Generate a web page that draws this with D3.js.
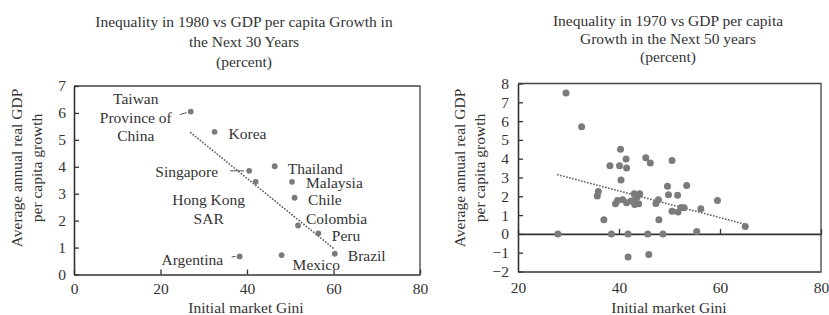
<!DOCTYPE html>
<html>
<head>
<meta charset="utf-8">
<script src="https://cdn.jsdelivr.net/npm/d3@7"></script>
<style>
  body { margin: 0; background: #fff; }
  svg { display: block; }
  text { font-family: "Liberation Serif", "DejaVu Serif", serif; fill: #333; }
</style>
</head>
<body>
<svg id="svg" width="829" height="315"></svg>
<script>
// left chart: inequality in 1980 vs growth over next 30 years
var leftNames = [["Taiwan", "Province of", "China"], ["Korea"], ["Singapore"], ["Hong Kong", "SAR"], ["Thailand"], ["Malaysia"], ["Chile"], ["Colombia"], ["Peru"], ["Brazil"], ["Mexico"], ["Argentina"]];
var leftGini =   [27, 32.5, 40.5, 42, 46.4, 50.4, 51, 51.8, 56.5, 60.3, 48, 38.3];
var leftGrowth = [6.05, 5.3, 3.85, 3.44, 4.02, 3.44, 2.85, 1.82, 1.53, 0.77, 0.72, 0.67];
var leftXTicks = [0, 20, 40, 60, 80];
var leftYTicks = [0, 1, 2, 3, 4, 5, 6, 7];

// right chart: inequality in 1970 vs growth over next 50 years
var rightGini =   [29.5, 32.6, 40.3, 41.4, 45.3, 46.2, 50.5, 38.2, 40.1, 41.5, 40.4, 35.9, 35.7, 39.3, 39.7, 40.7, 41.5, 42.4, 43.0, 43.6, 44.1, 43.1, 43.9, 43.2, 49.6, 49.8, 53.4, 51.6, 47.3, 47.8, 47.9, 50.5, 51.7, 52.3, 52.9, 56.2, 59.5, 55.4, 65, 37, 27.9, 38.5, 41.8, 45.7, 48.7, 41.8, 45.9];
var rightGrowth = [7.5, 5.7, 4.5, 3.98, 4.05, 3.77, 3.9, 3.63, 3.63, 3.5, 2.87, 2.25, 2.02, 1.61, 1.78, 1.82, 1.66, 1.75, 2.14, 1.96, 2.14, 1.57, 1.61, 1.82, 2.53, 2.08, 2.58, 2.05, 1.62, 1.82, 0.75, 1.21, 1.16, 1.4, 1.39, 1.34, 1.78, 0.13, 0.4, 0.75, 0, 0, 0, 0, 0, -1.23, -1.1];
var rightXTicks = [20, 40, 60, 80];
var rightYTicks = [-2, -1, 0, 1, 2, 3, 4, 5, 6, 7, 8];

var leftTitle = ["Inequality in 1980 vs GDP per capita Growth in", "the Next 30 Years", "(percent)"];
var rightTitle = ["Inequality in 1970 vs GDP per capita", "Growth in the Next 50 years", "(percent)"];
var yTitle = ["Average annual real GDP", "per capita growth"];
var xTitle = "Initial market Gini";

// label placement (offsets from the point), leader lines
var labelPlace = {
  "Taiwan":    {dx: -55, dy: -7.5, anchor: "middle", lead: [-11, 3, -4, 1]},
  "Korea":     {dx: 14, dy: 7, anchor: "start"},
  "Singapore": {dx: -31, dy: 6, anchor: "end", lead: [-19, 0, -5, 0]},
  "Hong Kong": {dx: -47, dy: 23, anchor: "middle"},
  "Thailand":  {dx: 13, dy: 7.5, anchor: "start"},
  "Malaysia":  {dx: 14, dy: 6.5, anchor: "start"},
  "Chile":     {dx: 13.5, dy: 7, anchor: "start"},
  "Colombia":  {dx: 8, dy: -1.5, anchor: "start"},
  "Peru":      {dx: 13.5, dy: 8, anchor: "start"},
  "Brazil":    {dx: 13, dy: 7, anchor: "start"},
  "Mexico":    {dx: 11, dy: 15, anchor: "start"},
  "Argentina": {dx: -16.5, dy: 8.5, anchor: "end", lead: [-8, 0.5, -4, 0]}
};

var svg = d3.select("#svg");
var fontSize = 15.5;
var dotColor = "#7b7b7b";
var ink = "#333";
var intFmt = d3.format("d");

function fit(xs, ys) {
  var mx = d3.mean(xs), my = d3.mean(ys);
  var sxy = d3.sum(xs, function(x, i) { return (x - mx) * (ys[i] - my); });
  var sxx = d3.sum(xs, function(x) { return (x - mx) * (x - mx); });
  var b = sxy / sxx;
  return function(x) { return my + b * (x - mx); };
}

function styleAxis(g) {
  g.attr("font-family", null);
  g.selectAll("text").style("font-size", fontSize + "px").attr("fill", ink);
  g.selectAll("line").attr("stroke", ink).attr("stroke-width", 1.3);
  g.select(".domain").attr("stroke", ink).attr("stroke-width", 1.6);
}

function titleBlock(lines, cx, y0, step) {
  svg.append("g").selectAll("text").data(lines).enter().append("text")
    .attr("x", cx)
    .attr("y", function(d, i) { return y0 + i * step; })
    .attr("text-anchor", "middle")
    .style("font-size", fontSize + "px")
    .text(function(d) { return d; });
}

function yTitleBlock(x0, cy) {
  svg.append("g").selectAll("text").data(yTitle).enter().append("text")
    .attr("transform", function(d, i) { return "translate(" + (x0 + i * 20) + "," + cy + ") rotate(-90)"; })
    .attr("text-anchor", "middle")
    .style("font-size", fontSize + "px")
    .text(function(d) { return d; });
}

// ---------- left chart ----------
var x1 = d3.scaleLinear().domain([0, 80]).range([74, 420]);
var y1 = d3.scaleLinear().domain([0, 7]).range([274.5, 86]);

// frame top / right
svg.append("path")
  .attr("d", "M" + x1(0) + "," + y1(7) + "H" + x1(80) + "V" + y1(0))
  .attr("fill", "none").attr("stroke", "#444").attr("stroke-width", 1.3);

svg.append("g").attr("transform", "translate(0," + y1(0) + ")")
  .call(d3.axisBottom(x1).tickValues(leftXTicks).tickFormat(intFmt).tickSize(-5).tickSizeOuter(0).tickPadding(8))
  .call(styleAxis);
svg.append("g").attr("transform", "translate(" + x1(0) + ",0)")
  .call(d3.axisLeft(y1).tickValues(leftYTicks).tickFormat(intFmt).tickSize(-5).tickSizeOuter(0).tickPadding(8))
  .call(styleAxis);

var f1 = fit(leftGini, leftGrowth);
var ext1 = d3.extent(leftGini);
svg.append("line")
  .attr("x1", x1(ext1[0])).attr("y1", y1(f1(ext1[0])))
  .attr("x2", x1(ext1[1])).attr("y2", y1(f1(ext1[1])))
  .attr("stroke", "#666").attr("stroke-width", 1.8)
  .attr("stroke-linecap", "round").attr("stroke-dasharray", "0.1 3");

svg.append("g").selectAll("circle").data(leftGini).enter().append("circle")
  .attr("cx", function(d) { return x1(d); })
  .attr("cy", function(d, i) { return y1(leftGrowth[i]); })
  .attr("r", 2.9)
  .attr("fill", dotColor);

leftNames.forEach(function(lines, i) {
  var p = labelPlace[lines[0]];
  var px = x1(leftGini[i]), py = y1(leftGrowth[i]);
  var t = svg.append("text")
    .attr("text-anchor", p.anchor)
    .style("font-size", fontSize + "px");
  lines.forEach(function(s, j) {
    t.append("tspan").attr("x", px + p.dx).attr("y", py + p.dy + j * (lines.length == 3 ? 18.5 : 19)).text(s);
  });
  if (p.lead) {
    svg.append("line")
      .attr("x1", px + p.lead[0]).attr("y1", py + p.lead[1])
      .attr("x2", px + p.lead[2]).attr("y2", py + p.lead[3])
      .attr("stroke", "#555").attr("stroke-width", 1);
  }
});

titleBlock(leftTitle, 244, 27, 20);
yTitleBlock(22, 168);
svg.append("text").attr("x", 246).attr("y", 313).attr("text-anchor", "middle")
  .style("font-size", fontSize + "px").text(xTitle);

// ---------- right chart ----------
var x2 = d3.scaleLinear().domain([20, 80]).range([518, 821]);
var y2 = d3.scaleLinear().domain([-2, 8]).range([271.5, 83.5]);

svg.append("path")
  .attr("d", "M" + x2(20) + "," + y2(8) + "H" + x2(80) + "V" + y2(-2))
  .attr("fill", "none").attr("stroke", "#444").attr("stroke-width", 1.3);

svg.append("g").attr("transform", "translate(0," + y2(-2) + ")")
  .call(d3.axisBottom(x2).tickValues(rightXTicks).tickFormat(intFmt).tickSize(0).tickPadding(10))
  .call(styleAxis);
svg.append("g").attr("transform", "translate(0," + y2(0) + ")")
  .call(d3.axisBottom(x2).tickValues(rightXTicks).tickSize(-5).tickSizeOuter(0).tickFormat(""))
  .call(styleAxis);
svg.append("g").attr("transform", "translate(" + x2(20) + ",0)")
  .call(d3.axisLeft(y2).tickValues(rightYTicks).tickFormat(intFmt).tickSize(-5).tickSizeOuter(0).tickPadding(9))
  .call(styleAxis);

var f2 = fit(rightGini, rightGrowth);
var ext2 = d3.extent(rightGini);
svg.append("line")
  .attr("x1", x2(ext2[0])).attr("y1", y2(f2(ext2[0])))
  .attr("x2", x2(ext2[1])).attr("y2", y2(f2(ext2[1])))
  .attr("stroke", "#666").attr("stroke-width", 1.8)
  .attr("stroke-linecap", "round").attr("stroke-dasharray", "0.1 3");

svg.append("g").selectAll("circle").data(rightGini).enter().append("circle")
  .attr("cx", function(d) { return x2(d); })
  .attr("cy", function(d, i) { return y2(rightGrowth[i]); })
  .attr("r", 3.5)
  .attr("fill", dotColor);

titleBlock(rightTitle, 668, 26, 18);
yTitleBlock(465, 168);
svg.append("text").attr("x", 669).attr("y", 313).attr("text-anchor", "middle")
  .style("font-size", fontSize + "px").text(xTitle);
</script>
</body>
</html>
